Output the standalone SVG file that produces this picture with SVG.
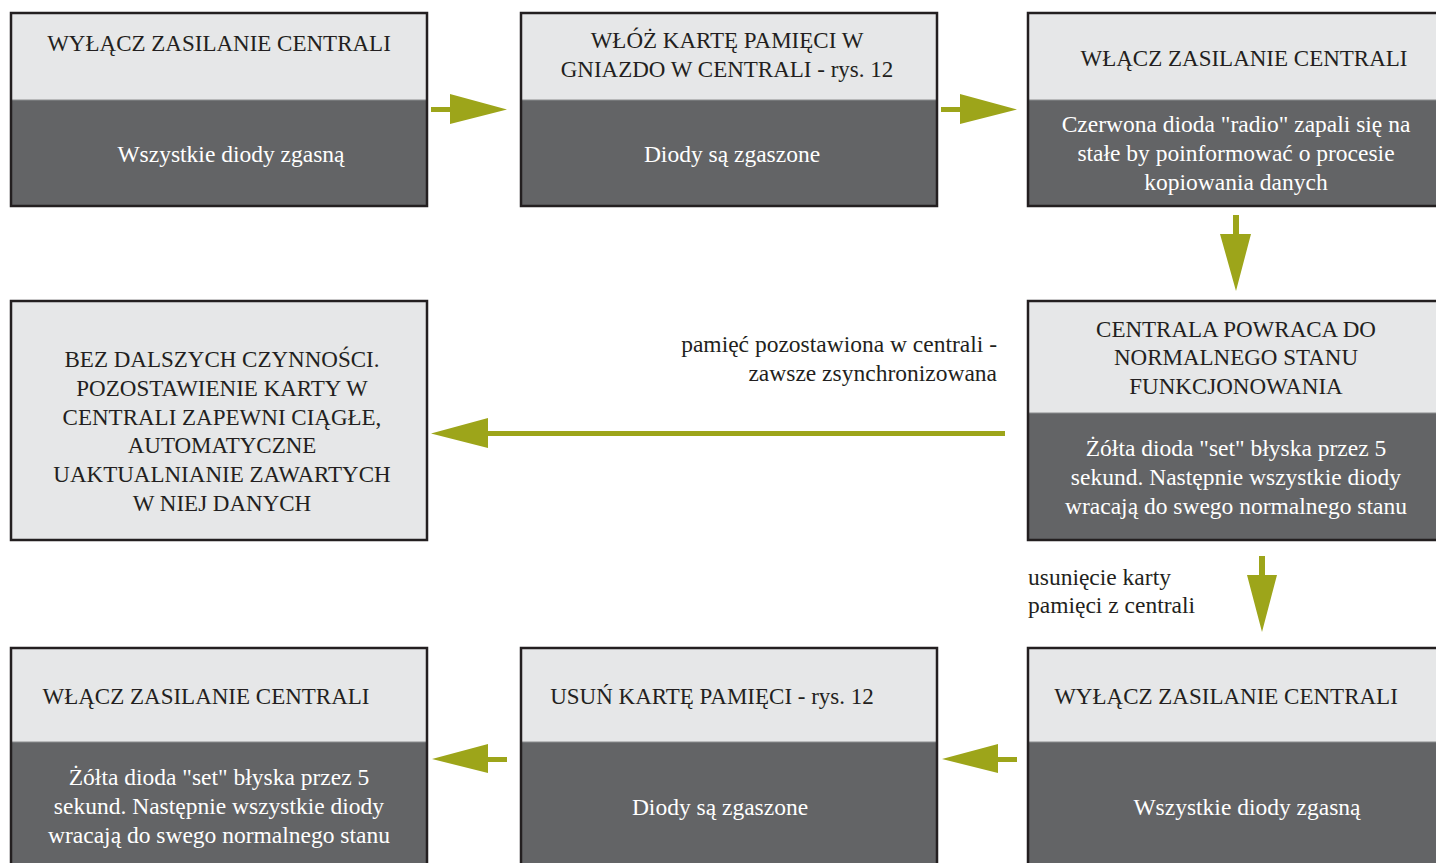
<svg xmlns="http://www.w3.org/2000/svg" width="1436" height="863" viewBox="0 0 1436 863">
<style>
.top{fill:#e6e7e8}
.bot{fill:#636466}
.frame{fill:none;stroke:#231f20;stroke-width:2.5}
.div{stroke:#8a8b8d;stroke-width:1}
text{font-family:"Liberation Serif","DejaVu Serif",serif;font-size:23px}
.t{fill:#231f20;text-anchor:middle}
.b{fill:#ffffff;text-anchor:middle;font-size:23.5px}
.l{fill:#231f20;font-size:23.5px}
.arr{fill:#9da51a}
</style>
<rect width="1436" height="863" fill="#ffffff"/>
<g id="n1">
<rect class="top" x="11" y="13" width="416" height="87"/>
<rect class="bot" x="11" y="100" width="416" height="106"/>
<line class="div" x1="11" y1="100" x2="427" y2="100"/>
<rect class="frame" x="11" y="13" width="416" height="193"/>
<text class="t" x="219" y="51">WYŁĄCZ ZASILANIE CENTRALI</text>
<text class="b" x="231" y="162">Wszystkie diody zgasną</text>
</g>
<g id="n2">
<rect class="top" x="521" y="13" width="416" height="87"/>
<rect class="bot" x="521" y="100" width="416" height="106"/>
<line class="div" x1="521" y1="100" x2="937" y2="100"/>
<rect class="frame" x="521" y="13" width="416" height="193"/>
<text class="t" x="727" y="48">WŁÓŻ KARTĘ PAMIĘCI W</text>
<text class="t" x="727" y="77">GNIAZDO W CENTRALI - rys. 12</text>
<text class="b" x="732" y="162">Diody są zgaszone</text>
</g>
<g id="n3">
<rect class="top" x="1028" y="13" width="420" height="87"/>
<rect class="bot" x="1028" y="100" width="420" height="106"/>
<line class="div" x1="1028" y1="100" x2="1448" y2="100"/>
<rect class="frame" x="1028" y="13" width="420" height="193"/>
<text class="t" x="1244" y="66">WŁĄCZ ZASILANIE CENTRALI</text>
<text class="b" x="1236" y="132">Czerwona dioda "radio" zapali się na</text>
<text class="b" x="1236" y="161">stałe by poinformować o procesie</text>
<text class="b" x="1236" y="190">kopiowania danych</text>
</g>
<g id="n4">
<rect class="top" x="1028" y="301" width="420" height="112"/>
<rect class="bot" x="1028" y="413" width="420" height="127"/>
<line class="div" x1="1028" y1="413" x2="1448" y2="413"/>
<rect class="frame" x="1028" y="301" width="420" height="239"/>
<text class="t" x="1236" y="337">CENTRALA POWRACA DO</text>
<text class="t" x="1236" y="365">NORMALNEGO STANU</text>
<text class="t" x="1236" y="394">FUNKCJONOWANIA</text>
<text class="b" x="1236" y="456">Żółta dioda "set" błyska przez 5</text>
<text class="b" x="1236" y="485">sekund. Następnie wszystkie diody</text>
<text class="b" x="1236" y="514">wracają do swego normalnego stanu</text>
</g>
<g id="n5">
<rect class="top" x="11" y="301" width="416" height="239"/>
<rect class="frame" x="11" y="301" width="416" height="239"/>
<text class="t" x="222" y="367">BEZ DALSZYCH CZYNNOŚCI.</text>
<text class="t" x="222" y="396">POZOSTAWIENIE KARTY W</text>
<text class="t" x="222" y="425">CENTRALI ZAPEWNI CIĄGŁE,</text>
<text class="t" x="222" y="453">AUTOMATYCZNE</text>
<text class="t" x="222" y="482">UAKTUALNIANIE ZAWARTYCH</text>
<text class="t" x="222" y="511">W NIEJ DANYCH</text>
</g>
<g id="n6">
<rect class="top" x="1028" y="648" width="420" height="94"/>
<rect class="bot" x="1028" y="742" width="420" height="130"/>
<line class="div" x1="1028" y1="742" x2="1448" y2="742"/>
<rect class="frame" x="1028" y="648" width="420" height="224"/>
<text class="t" x="1226" y="704">WYŁĄCZ ZASILANIE CENTRALI</text>
<text class="b" x="1247" y="815">Wszystkie diody zgasną</text>
</g>
<g id="n7">
<rect class="top" x="521" y="648" width="416" height="94"/>
<rect class="bot" x="521" y="742" width="416" height="130"/>
<line class="div" x1="521" y1="742" x2="937" y2="742"/>
<rect class="frame" x="521" y="648" width="416" height="224"/>
<text class="t" x="712" y="704">USUŃ KARTĘ PAMIĘCI - rys. 12</text>
<text class="b" x="720" y="815">Diody są zgaszone</text>
</g>
<g id="n8">
<rect class="top" x="11" y="648" width="416" height="94"/>
<rect class="bot" x="11" y="742" width="416" height="130"/>
<line class="div" x1="11" y1="742" x2="427" y2="742"/>
<rect class="frame" x="11" y="648" width="416" height="224"/>
<text class="t" x="206" y="704">WŁĄCZ ZASILANIE CENTRALI</text>
<text class="b" x="219" y="785">Żółta dioda "set" błyska przez 5</text>
<text class="b" x="219" y="814">sekund. Następnie wszystkie diody</text>
<text class="b" x="219" y="843">wracają do swego normalnego stanu</text>
</g>
<g id="connectors">
<path class="arr" d="M431,107 L450,107 L450,94 L507,109.5 L450,124 L450,112 L431,112 Z"/>
<path class="arr" d="M941,107 L960,107 L960,94 L1017,109.5 L960,124 L960,112 L941,112 Z"/>
<path class="arr" d="M1233,215 L1239,215 L1239,234 L1251,234 L1236,291 L1220,234 L1233,234 Z"/>
<path class="arr" d="M1005,431 L488,431 L488,418 L431,433.5 L488,448 L488,436 L1005,436 Z"/>
<path class="arr" d="M1259,556 L1265,556 L1265,575 L1277,575 L1262,632 L1247,575 L1259,575 Z"/>
<path class="arr" d="M1017,757 L998,757 L998,744 L942,759 L998,773 L998,762 L1017,762 Z"/>
<path class="arr" d="M507,757 L488,757 L488,744 L432,759 L488,773 L488,762 L507,762 Z"/>
<text class="l" x="997" y="352" text-anchor="end">pamięć pozostawiona w centrali -</text>
<text class="l" x="997" y="381" text-anchor="end">zawsze zsynchronizowana</text>
<text class="l" x="1028" y="585">usunięcie karty</text>
<text class="l" x="1028" y="613">pamięci z centrali</text>
</g>
</svg>
